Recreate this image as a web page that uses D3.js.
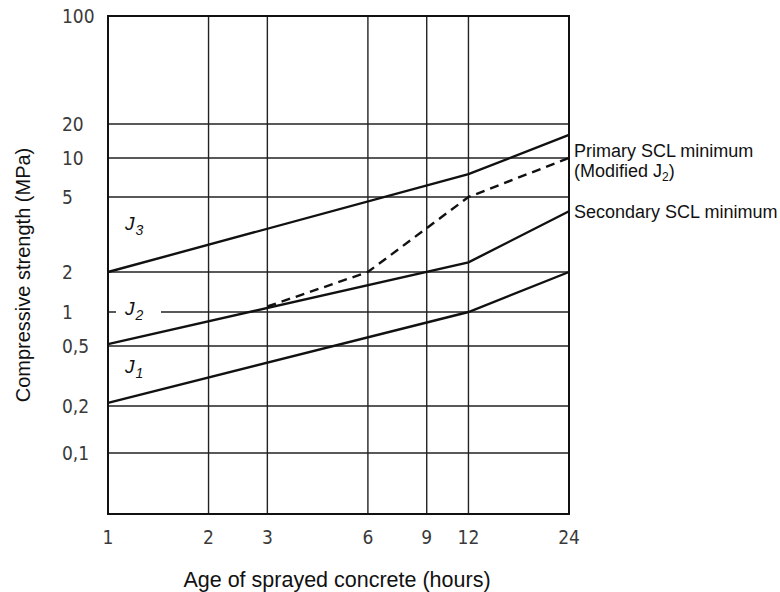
<!DOCTYPE html>
<html>
<head>
<meta charset="utf-8">
<script src="https://cdn.jsdelivr.net/npm/d3@7"></script>
<style>
  body { margin: 0; background: #fff; }
  .tick-label { font-family: "DejaVu Sans Condensed", "DejaVu Sans", sans-serif; font-size: 19px; fill: #3a3a3a; }
  .title { font-family: "Liberation Sans", Arial, sans-serif; fill: #111; }
</style>
</head>
<body>
<div id="chart"></div>
<script>
// *** Data (hours, MPa)
var xTicks = [1, 2, 3, 6, 9, 12, 24];
var yTicks = [100, 20, 10, 5, 2, 1, 0.5, 0.2, 0.1];
var yTickLabels = ["100", "20", "10", "5", "2", "1", "0,5", "0,2", "0,1"];

var j1 = [[1, 0.21], [12, 1.0], [24, 2.0]];
var j2 = [[1, 0.52], [12, 2.25], [24, 4.2]];
var j3 = [[1, 2.0], [12, 7.5], [24, 16]];
var primary = [[3, 1.1], [6, 2.0], [12, 5.0], [24, 10]];

(function() {
    var svg = d3.select("#chart").append("svg")
        .attr("width", 780)
        .attr("height", 592);

    // *** Scales
    var x = d3.scaleLog().domain([1, 24]).range([108, 569]);

    // the drawn y axis is not evenly spaced, so use a piecewise scale on log values
    var yLin = d3.scaleLinear()
        .domain([2, Math.log10(20), 1, Math.log10(5), Math.log10(2), 0, Math.log10(0.5), Math.log10(0.2), -1, -1.6])
        .range([16, 124, 158, 197, 272, 312, 346, 406, 453, 514]);
    var y = function(v) { return yLin(Math.log10(v)); };

    var x0 = 108, x1 = 569, y0 = 16, y1 = 514;

    // *** Grid
    var grid = svg.append("g").attr("stroke", "#222").attr("stroke-width", 1.4);

    grid.selectAll(".hgrid")
        .data(yTicks.slice(1))
        .enter().append("line")
        .attr("class", "hgrid")
        .attr("x1", x0).attr("x2", x1)
        .attr("y1", function(d) { return y(d); })
        .attr("y2", function(d) { return y(d); });

    grid.selectAll(".vgrid")
        .data(xTicks.slice(1, -1))
        .enter().append("line")
        .attr("class", "vgrid")
        .attr("y1", y0).attr("y2", y1)
        .attr("x1", function(d) { return x(d); })
        .attr("x2", function(d) { return x(d); });

    // frame
    svg.append("rect")
        .attr("x", x0).attr("y", y0)
        .attr("width", x1 - x0).attr("height", y1 - y0)
        .attr("fill", "none").attr("stroke", "#111").attr("stroke-width", 2);

    // *** Tick labels
    svg.selectAll(".ylab")
        .data(yTicks)
        .enter().append("text")
        .attr("class", "tick-label")
        .attr("x", 62)
        .attr("y", function(d) { return y(d); })
        .attr("dy", "0.36em")
        .text(function(d, i) { return yTickLabels[i]; });

    svg.selectAll(".xlab")
        .data(xTicks)
        .enter().append("text")
        .attr("class", "tick-label")
        .attr("text-anchor", "middle")
        .attr("x", function(d) { return x(d); })
        .attr("y", 537)
        .attr("dy", "0.36em")
        .text(function(d) { return d; });

    // *** Curves
    var line = d3.line()
        .x(function(d) { return x(d[0]); })
        .y(function(d) { return y(d[1]); });

    [j1, j2, j3].forEach(function(s) {
        svg.append("path")
            .datum(s)
            .attr("d", line)
            .attr("fill", "none")
            .attr("stroke", "#111")
            .attr("stroke-width", 2.4);
    });

    svg.append("path")
        .datum(primary)
        .attr("d", line)
        .attr("fill", "none")
        .attr("stroke", "#111")
        .attr("stroke-width", 2.4)
        .attr("stroke-dasharray", "9,6");

    // *** Curve labels J1..J3
    function jLabel(sub, base, blank) {
        if (blank) {
            svg.append("rect")
                .attr("x", 116).attr("y", base - 13)
                .attr("width", 45).attr("height", 18)
                .attr("fill", "#fff");
        }
        var t = svg.append("text")
            .attr("class", "title")
            .attr("x", 125)
            .attr("y", base)
            .style("font-size", "19px")
            .style("font-style", "italic");
        t.append("tspan").text("J");
        t.append("tspan").attr("dx", 1).attr("dy", 5).style("font-size", "14px").text(sub);
    }
    jLabel("3", 230, false);
    jLabel("2", 315, true);
    jLabel("1", 373, false);

    // *** Right hand labels
    svg.append("text").attr("class", "title")
        .attr("x", 574).attr("y", 157)
        .style("font-size", "18px")
        .text("Primary SCL minimum");

    var mod = svg.append("text").attr("class", "title")
        .attr("x", 574).attr("y", 177)
        .style("font-size", "18px");
    mod.append("tspan").text("(Modified J");
    mod.append("tspan").attr("dy", 4).style("font-size", "12px").text("2");
    mod.append("tspan").attr("dy", -4).text(")");

    svg.append("text").attr("class", "title")
        .attr("x", 574).attr("y", 218)
        .style("font-size", "18px")
        .text("Secondary SCL minimum");

    // *** Axis titles
    svg.append("text").attr("class", "title")
        .attr("text-anchor", "middle")
        .attr("x", 337).attr("y", 587)
        .style("font-size", "21.5px")
        .text("Age of sprayed concrete (hours)");

    svg.append("text").attr("class", "title")
        .attr("text-anchor", "middle")
        .attr("transform", "translate(30,275) rotate(-90)")
        .style("font-size", "20px")
        .text("Compressive strength (MPa)");
})();
</script>
</body>
</html>
